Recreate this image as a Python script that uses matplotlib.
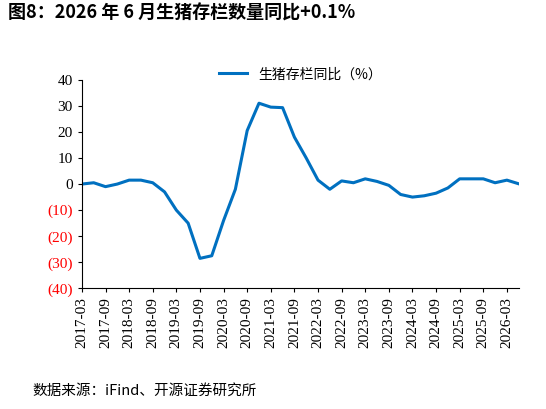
import matplotlib.pyplot as plt
import pandas as pd

plt.rcParams['font.family'] = ['Liberation Serif', 'Noto Sans CJK SC']

# quarterly YoY change of hog inventory (%)
quarters = pd.period_range("2017Q1", "2026Q2", freq="Q")
dates = ["%d-%02d" % (p.year, p.quarter * 3) for p in quarters]
values = [0, 0.5, -1, 0, 1.5, 1.5, 0.5, -3, -10, -15, -28.5, -27.5,
          -14, -2, 20.5, 31, 29.5, 29.3, 18, 10, 1.5, -2, 1.2, 0.5,
          2, 1, -0.5, -4, -5, -4.5, -3.5, -1.5, 2, 2, 2, 0.5, 1.5, 0.1]
yticks = [40, 30, 20, 10, 0, -10, -20, -30, -40]

fig = plt.figure(figsize=(5.46, 4.09), dpi=100)
ax = fig.add_axes([0.15, 0.295, 0.80, 0.51])
x = list(range(len(values)))
ax.plot(x, values, color="#0070C0", lw=2.2, label="生猪存栏同比（%）")

ax.set_ylim(-40, 40)
ax.set_yticks(yticks)
ax.set_yticklabels([str(v) if v >= 0 else "(%d)" % -v for v in yticks], fontsize=11)
for lab, v in zip(ax.get_yticklabels(), yticks):
    if v < 0:
        lab.set_color("red")
ax.set_xlim(0, len(values) - 1)
ax.set_xticks(x[::2])
ax.set_xticklabels(dates[::2], rotation=90, fontsize=11)
ax.spines[["top", "right"]].set_visible(False)
ax.tick_params(length=3)
ax.legend(loc="upper center", bbox_to_anchor=(0.5, 1.12), frameon=False,
          prop={"family": "Noto Sans CJK SC", "size": 10})

fig.text(0.015, 0.955, "图8：2026 年 6 月生猪存栏数量同比+0.1%", fontsize=13,
         fontweight="bold", family=["Noto Sans CJK SC"])
fig.text(0.06, 0.035, "数据来源：iFind、开源证券研究所", fontsize=10.5,
         family=["Noto Sans CJK SC"])
fig.savefig("out.png", dpi=100)
